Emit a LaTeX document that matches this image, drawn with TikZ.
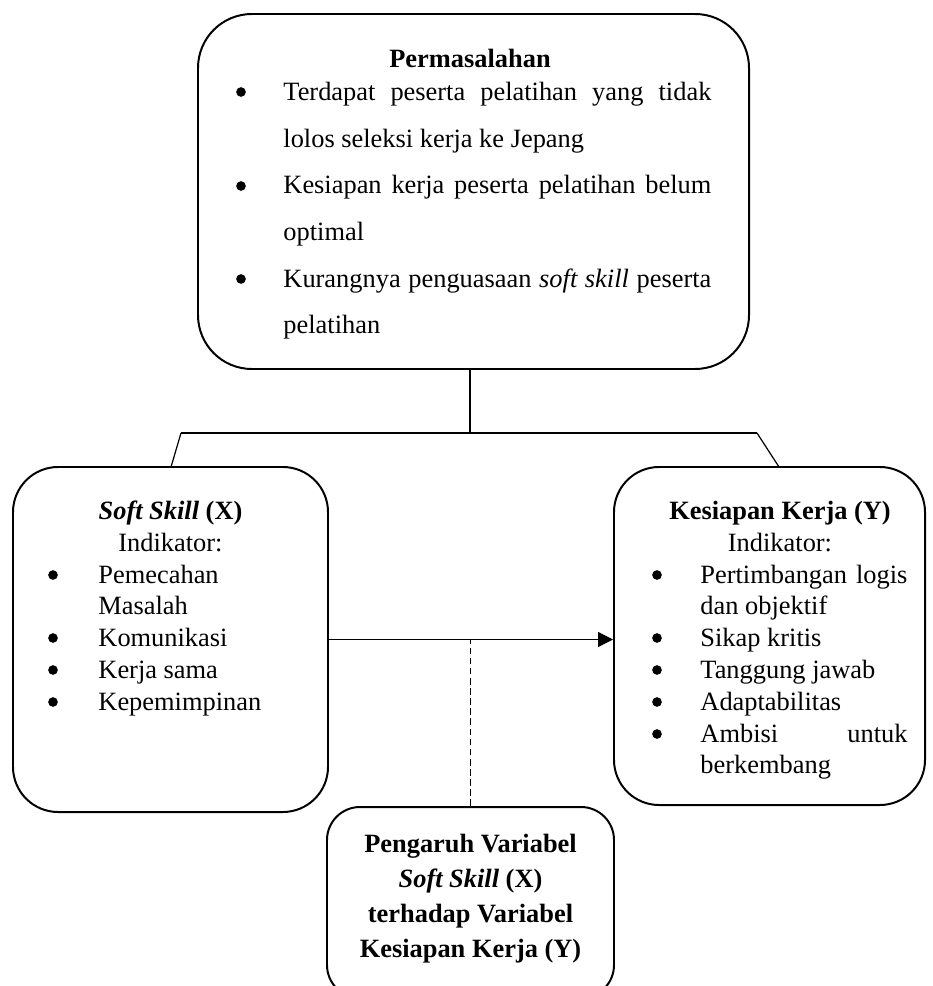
\documentclass[tikz,border=0pt]{standalone}
\usepackage{fontspec}
\setmainfont{Liberation Serif}
\usetikzlibrary{arrows.meta, positioning}

\newcommand{\pxu}{0.4545pt}

\begin{document}
\begin{tikzpicture}[x=\pxu, y=-\pxu, >={Triangle[length=6.8pt, width=6.8pt]},
    every node/.style={inner sep=0pt, font=\fontsize{12pt}{14pt}\selectfont},
    box/.style={draw, line width=0.9pt, rounded corners=#1},
    head/.style={anchor=base, font=\fontsize{12pt}{14pt}\selectfont\bfseries},
    sub/.style={anchor=base},
    bull/.style={circle, fill, minimum size=4.4pt, yshift=8*\pxu},
    txtline/.style={anchor=base west},
    conn/.style={line width=0.55pt}]
    \useasboundingbox (0,0) rectangle (933,986);

    % Boxes
    \node[box=24.5pt, minimum width=551*\pxu, minimum height=355*\pxu] (masalah) at (473.5,191.5) {};
    \node[box=20.5pt, minimum width=315*\pxu, minimum height=345*\pxu] (soft) at (170.5,639.5) {};
    \node[box=20.5pt, minimum width=311*\pxu, minimum height=338*\pxu] (kerja) at (769.5,636) {};
    \node[box=15pt, minimum width=287*\pxu, minimum height=191*\pxu] (pengaruh) at (470.5,902.5) {};

    % Permasalahan
    \node[head] (masalahhead) at (470,68) {Permasalahan};
    \foreach \y [count=\i] in {100,194,287}
        \node[bull] (mbull\i) at (241,\y) {};
    \foreach \y/\t [count=\i] in {
        100/{\makebox[194.5pt][s]{Terdapat peserta pelatihan yang tidak}},
        147/{lolos seleksi kerja ke Jepang},
        194/{\makebox[194.5pt][s]{Kesiapan kerja peserta pelatihan belum}},
        240/{optimal},
        287/{\makebox[194.5pt][s]{Kurangnya penguasaan \textit{soft skill} peserta}},
        333/{pelatihan}}
        \node[txtline] (mline\i) at (283,\y) {\t};

    % Soft skill (X)
    \node[head] (softhead) at (170.5,519) {\textit{Soft Skill} (X)};
    \node[sub] (softsub) at (170.5,551) {Indikator:};
    \foreach \y [count=\i] in {583,646,678,710}
        \node[bull] (sbull\i) at (53,\y) {};
    \foreach \y/\t [count=\i] in {583/Pemecahan, 614/Masalah, 646/Komunikasi,
        678/{Kerja sama}, 710/Kepemimpinan}
        \node[txtline] (sline\i) at (98,\y) {\t};

    % Kesiapan kerja (Y)
    \node[head] (kerjahead) at (780,519) {Kesiapan Kerja (Y)};
    \node[sub] (kerjasub) at (780,551) {Indikator:};
    \foreach \y [count=\i] in {583,646,678,710,742}
        \node[bull] (kbull\i) at (657,\y) {};
    \foreach \y/\t [count=\i] in {
        583/{\makebox[94.1pt][s]{Pertimbangan logis}},
        614/{dan objektif},
        646/{Sikap kritis},
        678/{Tanggung jawab},
        710/{Adaptabilitas},
        742/{\makebox[94.1pt][s]{Ambisi untuk}},
        773/{berkembang}}
        \node[txtline] (kline\i) at (700,\y) {\t};

    % Pengaruh
    \foreach \y/\t [count=\i] in {852/{Pengaruh Variabel}, 887/{\textit{Soft Skill} (X)},
        922/{terhadap Variabel}, 957/{Kesiapan Kerja (Y)}}
        \node[head] (pline\i) at (470.5,\y) {\t};

    % Connectors
    \coordinate (junc) at (470,433);
    \coordinate (jl) at (181,433);
    \coordinate (jr) at (757,433);
    \coordinate (sl) at (171,467);
    \coordinate (kr) at (779,467);
    \draw[conn] (masalah.south -| junc) -- (junc);
    \draw[conn] (jl) -- (jr);
    \draw[conn] (jl) -- (sl);
    \draw[conn] (jr) -- (kr);
    \draw[conn, ->] (soft.east) -- (soft.east -| kerja.west);
    \draw[conn, dash pattern=on 3pt off 1.6pt] (pengaruh.north) -- (pengaruh.north |- soft.east);
\end{tikzpicture}
\end{document}
